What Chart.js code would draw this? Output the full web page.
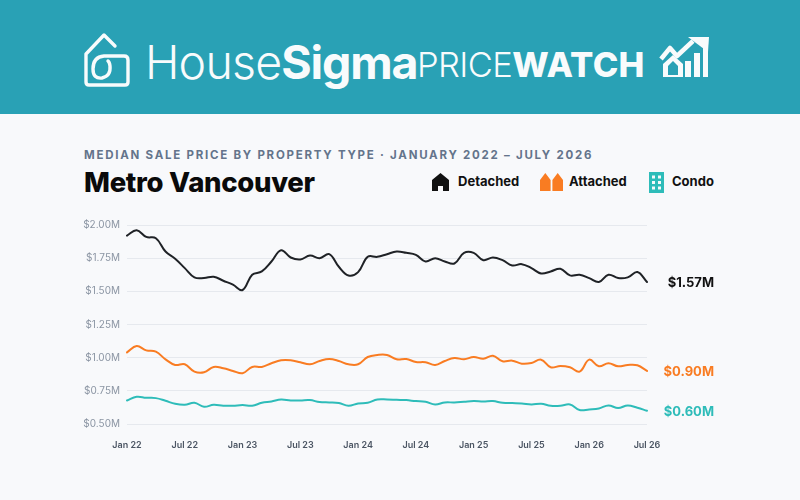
<!DOCTYPE html>
<html><head><meta charset="utf-8">
<script src="https://cdn.jsdelivr.net/npm/chart.js@4"></script>
<style>
html,body{margin:0;padding:0;width:800px;height:500px;overflow:hidden;background:#f8f9fb;font-family:Inter,"Noto Sans",sans-serif}
#hdr{position:absolute;left:0;top:0;width:800px;height:114px;background:#29a1b5}
.t{position:absolute;white-space:nowrap;line-height:1}
svg{position:absolute;overflow:visible}
canvas{position:absolute;left:0;top:0}
</style></head><body>
<div id="hdr"></div>
<svg style="left:84px;top:33px" width="46" height="54" viewBox="0 0 46 54" fill="none" stroke="#f8fbfc" stroke-width="3.4" stroke-linecap="round" stroke-linejoin="round">
<path d="M31 13 L20 2 L2 21 V49 Q2 52 5 52 H41 Q44 52 44 49 V27 Q44 23 40 23 H20 Q9 24 9 36 Q9 46 18 45 Q27 43 26 33 Q25.500 29 24 28"/>
</svg>
<div class="t" style="left:145px;top:39px;font-size:46.500px;color:#f8fbfc;font-weight:300;letter-spacing:-.8px">House<span style="font-weight:700;letter-spacing:-1.2px">Sigma</span></div>
<div class="t" style="left:417px;top:48px;font-size:34.500px;color:#f8fbfc;font-weight:300;letter-spacing:-.6px">PRICE<span style="font-weight:800;letter-spacing:.3px">WATCH</span></div>
<svg style="left:660px;top:34px" width="49" height="44" viewBox="0 0 49 44">
<path d="M1 25 L10 14 L17 22 L33 7" fill="none" stroke="#f8fbfc" stroke-width="4.500" stroke-linejoin="round"/>
<path d="M28 3 H49 L48 18 Z" fill="#f8fbfc" transform="translate(0,0)"/>
<path d="M3 43 V30 L13 21 L23 30 V43 Z" fill="#f8fbfc"/>
<path d="M8 41 V32 L13 27 L18 32 V41 Z" fill="#29a1b5"/>
<rect x="25" y="27" width="6" height="16" fill="#f8fbfc"/><rect x="34" y="19" width="6" height="24" fill="#f8fbfc"/><rect x="43" y="11" width="5" height="32" fill="#f8fbfc"/>
</svg>
<div class="t" style="left:84px;top:150px;font-size:11.500px;font-weight:700;letter-spacing:1.75px;color:#64748b">MEDIAN SALE PRICE BY PROPERTY TYPE · JANUARY 2022 – JULY 2026</div>
<div class="t" style="left:84px;top:169px;font-size:27.500px;font-weight:800;color:#0a0a0a;letter-spacing:-.3px">Metro Vancouver</div>
<svg style="left:432px;top:173px" width="17" height="18" viewBox="0 0 17 18"><path d="M0 18 V7 L8.500 0 L17 7 V18 H11 V13 H6 V18 Z" fill="#111"/></svg>
<div class="t" style="left:458px;top:175px;font-size:13px;font-weight:700;color:#111">Detached</div>
<svg style="left:540px;top:173px" width="23" height="18" viewBox="0 0 23 18"><path d="M0 18 V7 L5.300 0 L10.600 7 V18 Z M12.400 18 V7 L17.700 0 L23 7 V18 Z" fill="#f97c22"/></svg>
<div class="t" style="left:569px;top:175px;font-size:13px;font-weight:700;color:#111">Attached</div>
<svg style="left:649px;top:172px" width="15" height="21" viewBox="0 0 15 21"><rect width="15" height="21" fill="#2ebcb9"/><g fill="#f8f9fb"><rect x="3" y="3.500" width="3" height="3"/><rect x="9" y="3.500" width="3" height="3"/><rect x="3" y="9" width="3" height="3"/><rect x="9" y="9" width="3" height="3"/><rect x="3" y="14.500" width="3" height="3"/><rect x="9" y="14.500" width="3" height="3"/></g></svg>
<div class="t" style="left:672px;top:175px;font-size:13px;font-weight:700;color:#111">Condo</div>
<canvas id="c" width="800" height="500"></canvas>
<script>
const months = ["Jan 22","Feb 22","Mar 22","Apr 22","May 22","Jun 22","Jul 22","Aug 22","Sep 22","Oct 22","Nov 22","Dec 22",
"Jan 23","Feb 23","Mar 23","Apr 23","May 23","Jun 23","Jul 23","Aug 23","Sep 23","Oct 23","Nov 23","Dec 23",
"Jan 24","Feb 24","Mar 24","Apr 24","May 24","Jun 24","Jul 24","Aug 24","Sep 24","Oct 24","Nov 24","Dec 24",
"Jan 25","Feb 25","Mar 25","Apr 25","May 25","Jun 25","Jul 25","Aug 25","Sep 25","Oct 25","Nov 25","Dec 25",
"Jan 26","Feb 26","Mar 26","Apr 26","May 26","Jun 26","Jul 26"];
const detached = [1.92,1.96,1.91,1.90,1.80,1.745,1.675,1.605,1.60,1.61,1.58,1.55,
1.51,1.625,1.65,1.725,1.81,1.755,1.74,1.77,1.75,1.78,1.685,1.62,
1.645,1.76,1.76,1.78,1.80,1.79,1.775,1.725,1.75,1.725,1.71,1.79,
1.79,1.735,1.755,1.735,1.695,1.705,1.675,1.635,1.65,1.67,1.62,1.625,
1.60,1.57,1.625,1.60,1.605,1.645,1.57];
const attached = [1.04,1.0875,1.055,1.045,.9875,.945,.95,.895,.89,.93,.92,.90,
.8825,.93,.93,.9575,.98,.98,.965,.95,.975,.99,.975,.95,
.95,1.005,1.02,1.02,.9875,.99,.9675,.965,.945,.975,.9975,.9875,
1.005,.9925,1.015,.9725,.9775,.955,.96,.985,.9275,.9375,.9275,.895,
.985,.935,.9575,.935,.945,.9425,.90];
const condo = [.6775,.705,.6975,.695,.675,.6525,.645,.66,.63,.645,.6375,.6375,
.6425,.6375,.66,.67,.685,.6775,.6775,.68,.665,.6625,.6575,.6375,
.655,.66,.685,.685,.6825,.68,.6725,.6675,.6475,.6625,.6625,.6675,
.6725,.67,.6725,.66,.6575,.655,.6475,.6525,.6375,.6375,.6475,.605,
.61,.6175,.64,.62,.64,.6225,.60];
const seriesNames = ["Detached","Attached","Condo"];
const seriesColors = ["#1f2226","#f97c22","#2ebcb9"];
const labelColors = ["#111111","#f97c22","#2ebcb9"];
const yTicks = [0.5,0.75,1,1.25,1.5,1.75,2];
const font = 'Inter, "Noto Sans", sans-serif';

const endLabels = {
  id:'endLabels',
  afterDatasetsDraw(chart){
    const {ctx,scales:{y}} = chart;
    ctx.save();
    ctx.textAlign='right';ctx.textBaseline='middle';
    ctx.font='700 13px '+font;
    chart.data.datasets.forEach((d,i)=>{
      const v=d.data[d.data.length-1];
      ctx.fillStyle=labelColors[i];
      ctx.fillText('$'+v.toFixed(2)+'M',714,y.getPixelForValue(v)+1);
    });
    ctx.restore();
  }
};
new Chart(document.getElementById('c'),{
  type:'line',
  data:{labels:months,datasets:[detached,attached,condo].map((data,i)=>({
    label:seriesNames[i],data,borderColor:seriesColors[i],borderWidth:2,pointRadius:0,tension:.4,fill:false,
    borderCapStyle:'round',borderJoinStyle:'round'}))},
  plugins:[endLabels],
  options:{
    responsive:false,animation:false,devicePixelRatio:1,
    layout:{padding:{left:80,right:153,top:225,bottom:46}},
    plugins:{legend:{display:false},tooltip:{enabled:false},title:{display:false}},
    scales:{
      x:{offset:false,
        grid:{display:false},border:{display:false},
        afterFit(s){s.height=30},
        ticks:{autoSkip:false,maxRotation:0,minRotation:0,padding:8,color:'#4b5563',font:{family:font,size:9,weight:'600'},
          callback(v,i){return i%6===0?months[i]:''}}},
      y:{min:.5,max:2,
        afterFit(s){s.width=47},
        afterBuildTicks(s){s.ticks=yTicks.map(value=>({value}))},
        border:{display:false},
        grid:{color:'#e6e9ee',lineWidth:1,drawTicks:false,tickBorderDash:[],},
        ticks:{padding:7,color:'#8b95a3',font:{family:font,size:10,weight:'400'},
          callback(v){return '$'+Number(v).toFixed(2)+'M'}}}
    }
  }
});
</script>
</body></html>
